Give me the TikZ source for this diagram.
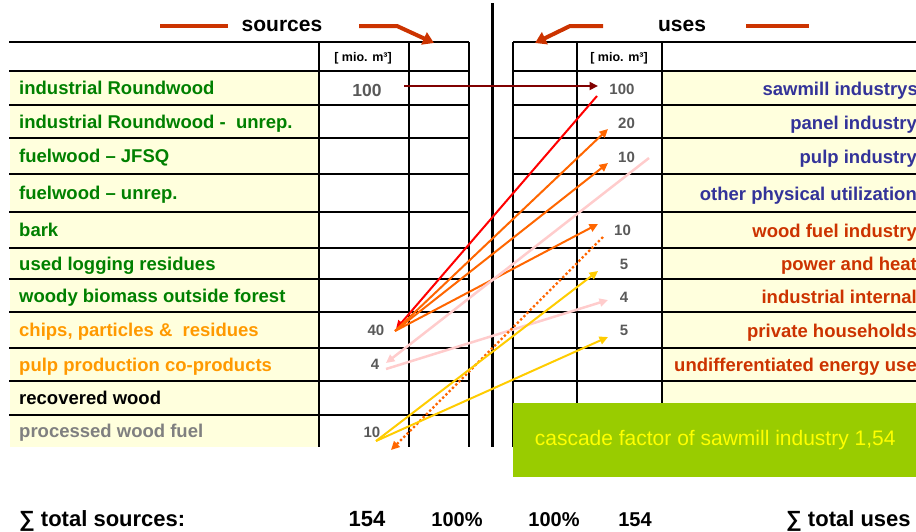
\documentclass[tikz,border=0pt]{standalone}
\usepackage{fontspec}
\setmainfont{Liberation Sans}
\usetikzlibrary{arrows.meta}
\definecolor{cream}{HTML}{FFFFDD}
\definecolor{lgreen}{HTML}{008000}
\definecolor{lorange}{HTML}{FF9900}
\definecolor{rblue}{HTML}{333399}
\definecolor{rred}{HTML}{CC3300}
\definecolor{numgray}{HTML}{595959}
\definecolor{dkred}{HTML}{800000}
\definecolor{arrorange}{HTML}{FF6600}
\definecolor{pinkc}{HTML}{FFCCCC}
\definecolor{goldc}{HTML}{FFCC00}
\definecolor{boxgreen}{HTML}{99CC00}
\definecolor{yel}{HTML}{FFFF00}
\begin{document}
\begin{tikzpicture}[x=1pt,y=-1pt,
  lbl/.style={anchor=base west,inner sep=0pt,font=\fontsize{18.5}{20}\selectfont\bfseries},
  rlbl/.style={anchor=base east,inner sep=0pt,font=\fontsize{18.5}{20}\selectfont\bfseries},
  num/.style={inner sep=0pt,text=numgray,font=\fontsize{15}{16}\selectfont\bfseries},
  unit/.style={inner sep=0pt,font=\fontsize{12.5}{14}\selectfont\bfseries},
  head/.style={anchor=base,inner sep=0pt,font=\fontsize{21}{23}\selectfont\bfseries},
  tot/.style={anchor=base,inner sep=0pt,font=\fontsize{22}{24}\selectfont\bfseries},
  grid/.style={line width=1.3pt,black},
  deco/.style={rred,line width=4pt},
  tip/.style={-{Triangle[length=8.5pt,width=8pt]}},
  flow/.style={line width=2pt,tip}]
\useasboundingbox (0,0) rectangle (916,531);
\clip (0,0) rectangle (916,531);
% fills
\fill[cream] (10,71) rectangle (319,447);
\fill[cream] (662,71) rectangle (916,447);
% grid
\foreach \y in {42,71,105,138,174,212,248,279,312,348,381,415}
  \draw[grid] (9,\y) -- (469,\y);
\foreach \y in {42,71,105,138,174,212,248,279,312,348,381,415}
  \draw[grid] (513,\y) -- (916,\y);
\foreach \x in {319,409,469,513,577,662}
  \draw[grid] (\x,42) -- (\x,447);
\draw[line width=3pt] (492,3) -- (492,447);
% header
\node[head] (hs) at (282,31) {sources};
\node[head] (hu) at (682,31) {uses};
\coordinate (d1a) at (160,26); \coordinate (d1b) at (228,26);
\coordinate (d2a) at (359,26); \coordinate (d2b) at (397,26); \coordinate (d2c) at (434,43);
\coordinate (d3a) at (603,26); \coordinate (d3b) at (570,26); \coordinate (d3c) at (535,43);
\coordinate (d4a) at (746,26); \coordinate (d4b) at (809,26);
\draw[deco] (d1a) -- (d1b);
\draw[deco] (d4a) -- (d4b);
\draw[deco,line join=round,-{Triangle[length=11pt,width=13pt]}] (d2a) -- (d2b) -- (d2c);
\draw[deco,line join=round,-{Triangle[length=11pt,width=13pt]}] (d3a) -- (d3b) -- (d3c);
\node[unit] (ul) at (363,58) {[ mio. m³]};
\node[unit] (ur) at (619,58) {[ mio. m³]};
% left labels
\node[lbl,text=lgreen] (l1) at (19,94.5) {industrial Roundwood};
\node[lbl,text=lgreen] (l2) at (19,128) {industrial Roundwood -\ \ unrep.};
\node[lbl,text=lgreen] (l3) at (19,162.5) {fuelwood – JFSQ};
\node[lbl,text=lgreen] (l4) at (19,199.5) {fuelwood – unrep.};
\node[lbl,text=lgreen] (l5) at (19,236.5) {bark};
\node[lbl,text=lgreen] (l6) at (19,270) {used logging residues};
\node[lbl,text=lgreen] (l7) at (19,302.5) {woody biomass outside forest};
\node[lbl,text=lorange] (l8) at (19,336.5) {chips, particles \&\ \ residues};
\node[lbl,text=lorange] (l9) at (19,371) {pulp production co-products};
\node[lbl,text=black] (l10) at (19,404.5) {recovered wood};
\node[lbl,text=gray] (l11) at (19,437.5) {processed wood fuel};
% right labels
\node[rlbl,text=rblue] (r1) at (918,95.5) {sawmill industrys};
\node[rlbl,text=rblue] (r2) at (917,129) {panel industry};
\node[rlbl,text=rblue] (r3) at (917,163) {pulp industry};
\node[rlbl,text=rblue] (r4) at (917,200) {other physical utilization};
\node[rlbl,text=rred] (r5) at (917,237) {wood fuel industry};
\node[rlbl,text=rred] (r6) at (917,270) {power and heat};
\node[rlbl,text=rred] (r7) at (917,303) {industrial internal};
\node[rlbl,text=rred] (r8) at (917,337) {private households};
\node[rlbl,text=rred] (r9) at (917,371) {undifferentiated energy use};
% numbers
\node[num,font=\fontsize{17.5}{18}\selectfont\bfseries] (n1) at (367,90) {100};
\node[num,anchor=east] (n8) at (384.5,330.5) {40};
\node[num,anchor=east] (n9) at (379.5,364) {4};
\node[num,anchor=east] (n11) at (380.5,432) {10};
\node[num] (m1) at (622,89.5) {100};
\node[num] (m2) at (626.5,123) {20};
\node[num] (m3) at (626.5,157) {10};
\node[num] (m5) at (622.5,230.5) {10};
\node[num] (m6) at (624,264.5) {5};
\node[num] (m7) at (624,297) {4};
\node[num] (m8) at (624,330.5) {5};
% flow end points
\coordinate (a100) at (404,86);  \coordinate (b100) at (598,86);
\coordinate (saw) at (597,96);
\coordinate (chips) at (395,331); \coordinate (chipsin) at (396,329);
\coordinate (panel) at (608,129);
\coordinate (pulp) at (608,163);
\coordinate (pulpout) at (649,158);
\coordinate (fuel) at (598,224);
\coordinate (fuelout) at (603,237);
\coordinate (copin) at (386,363);
\coordinate (copout) at (386,369);
\coordinate (indint) at (608,300);
\coordinate (pwf) at (376,441);
\coordinate (pwfin) at (391,450);
\coordinate (power) at (598,271);
\coordinate (priv) at (608,337);
% flows
\draw[flow,dkred] (a100) -- (b100);
\draw[flow,red] (saw) -- (chipsin);
\draw[flow,arrorange] (chips) -- (panel);
\draw[flow,arrorange] (chips) -- (pulp);
\draw[flow,arrorange] (chips) -- (fuel);
\draw[flow,pinkc,line width=2.5pt] (pulpout) -- (copin);
\draw[flow,pinkc,line width=2.5pt] (copout) -- (indint);
\draw[flow,arrorange,line width=2.3pt,dash pattern=on 2.3pt off 2.3pt] (fuelout) -- (pwfin);
\draw[flow,goldc] (pwf) -- (power);
\draw[flow,goldc] (pwf) -- (priv);
% cascade box
\node[fill=boxgreen,anchor=north west,minimum width=404pt,minimum height=74pt,inner sep=0pt,
      text=yel,font=\fontsize{21}{23}\selectfont] (cf) at (513,403)
      {cascade factor of sawmill industry 1,54};
% totals
\node[tot,anchor=base west] (ts) at (19,526) {∑ total sources:};
\node[tot] (t1) at (367,526) {154};
\node[tot,font=\fontsize{20}{22}\selectfont\bfseries] (t2) at (457,526) {100\%};
\node[tot,font=\fontsize{20}{22}\selectfont\bfseries] (t3) at (554,526) {100\%};
\node[tot,font=\fontsize{20}{22}\selectfont\bfseries] (t4) at (635,526) {154};
\node[tot,anchor=base west] (tu) at (786,526) {∑ total uses};
\end{tikzpicture}
\end{document}
